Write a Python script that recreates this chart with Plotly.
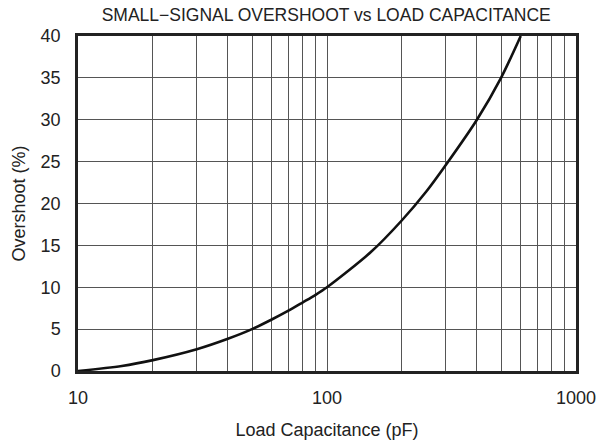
import plotly.graph_objects as go

capacitance_pf = [10, 15, 20, 30, 40, 50, 60, 70, 80, 90, 100, 150, 200, 250, 300, 400, 500, 600]
overshoot_pct = [0.0, 0.6, 1.3, 2.6, 3.85, 5.0, 6.15, 7.2, 8.2, 9.1, 10.0, 14.2, 18.0, 21.4, 24.6, 30.0, 35.0, 40.0]

x_tickvals = [10, 20, 30, 40, 50, 60, 70, 80, 90, 100, 200, 300, 400, 500, 600, 700, 800, 900, 1000]
x_ticktext = ["10", "", "", "", "", "", "", "", "", "100", "", "", "", "", "", "", "", "", "1000"]
y_tickvals = [0, 5, 10, 15, 20, 25, 30, 35, 40]

title_text = "SMALL\u2212SIGNAL OVERSHOOT vs LOAD CAPACITANCE"
x_title = "Load Capacitance (pF)"
y_title = "Overshoot (%)"

font_family = "Liberation Sans, Arial, sans-serif"

fig = go.Figure()
fig.add_trace(go.Scatter(
    x=capacitance_pf, y=overshoot_pct, mode="lines",
    line=dict(color="#111111", width=2.6, shape="spline", smoothing=0.8),
    showlegend=False, hoverinfo="skip",
))

fig.update_layout(
    width=598, height=444,
    margin=dict(l=78, r=22, t=36, b=73),
    paper_bgcolor="white", plot_bgcolor="white",
    font=dict(family=font_family, color="#222222", size=18),
    title=dict(text=title_text, x=0.5455, xanchor="center", y=0.966, yanchor="middle",
               font=dict(size=17.5, color="#222222")),
)

fig.update_xaxes(
    type="log", range=[1, 3],
    tickvals=x_tickvals, ticktext=x_ticktext,
    showgrid=True, gridcolor="#555555", gridwidth=1,
    showline=True, linecolor="#222222", linewidth=2.5, mirror=True,
    ticks="", ticklabelstandoff=9,
    tickfont=dict(size=18),
    title=dict(text=x_title, font=dict(size=18), standoff=17),
    automargin=False, zeroline=False,
)
fig.update_yaxes(
    range=[0, 40], tickvals=y_tickvals,
    showgrid=True, gridcolor="#555555", gridwidth=1,
    showline=True, linecolor="#222222", linewidth=2.5, mirror=True,
    ticks="", ticklabelstandoff=11,
    tickfont=dict(size=18),
    title=dict(text=y_title, font=dict(size=18), standoff=11),
    automargin=False, zeroline=False,
)

# Remove the default 8px page margin so the figure fills the window exactly.
fig.write_html(
    "out.html",
    config={"displayModeBar": False},
    post_script="document.body.style.margin='0';document.body.style.overflow='hidden';",
)
